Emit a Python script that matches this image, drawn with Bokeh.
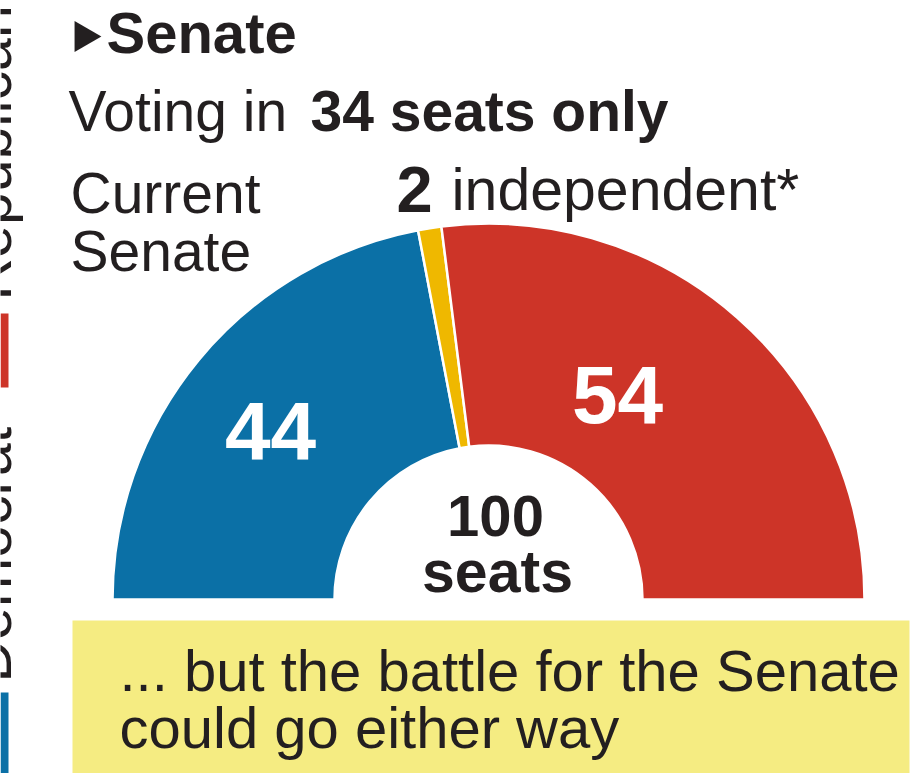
import numpy as np
from bokeh.plotting import figure
from bokeh.models import Range1d, ColumnDataSource, BoxAnnotation
from bokeh.core.properties import value
from bokeh.embed import file_html
from bokeh.resources import INLINE

# ---- data ----
parties = ["Democrat", "Independent", "Republican"]
seats = [44, 2, 54]
party_colors = ["#0b70a6", "#efb800", "#cd3428"]
total_seats = sum(seats)

W, H = 917, 773
FONT = value("Liberation Sans")
DARK = "#231f20"
MID = 0.3465  # distance from em-box middle to alphabetic baseline, in em


def Y(y):
    return H - y


p = figure(width=W, height=H, x_range=Range1d(0, W), y_range=Range1d(0, H),
           min_border=0, toolbar_location=None, output_backend="svg")
p.axis.visible = False
p.grid.visible = False
p.outline_line_color = None
p.background_fill_color = "white"
p.border_fill_color = "white"


def txt(x, base_y, s, size, bold=False, color=DARK, align="left"):
    """Place text so that its alphabetic baseline sits at screen row base_y."""
    p.text(x=[x], y=[Y(base_y - MID * size)], text=[s], text_font=FONT,
           text_font_style="bold" if bold else "normal", text_font_size=f"{size}px",
           text_color=color, text_align=align, text_baseline="middle")


# ---- half donut ----
cum = np.cumsum(seats)
prev = np.concatenate([[0], cum[:-1]])
end_angles = np.pi - prev / total_seats * np.pi
start_angles = np.pi - cum / total_seats * np.pi
cx, cy = 488, Y(599)
src = ColumnDataSource(dict(start=start_angles, end=end_angles, color=party_colors, party=parties))
p.annular_wedge(x=cx, y=cy, inner_radius=154, outer_radius=376,
                start_angle="start", end_angle="end", direction="anticlock",
                fill_color="color", line_color="white", line_width=2.5, source=src)

# seat labels
txt(270, 458, str(seats[0]), 82, bold=True, color="white", align="center")
txt(617, 422, str(seats[2]), 82, bold=True, color="white", align="center")
txt(495, 536, str(total_seats), 58, bold=True, align="center")
txt(497, 592, "seats", 59, bold=True, align="center")

# ---- headings ----
p.scatter(x=[83], y=[Y(36)], marker="triangle", size=31, angle=-np.pi / 2,
          fill_color=DARK, line_color=None)
txt(106, 52, "Senate", 58, bold=True)
txt(68, 130, "Voting in", 57)
txt(310, 130, "34 seats only", 57, bold=True)
txt(70, 212, "Current", 57)
txt(70, 270, "Senate", 57)
txt(396, 212, str(seats[1]), 65, bold=True)
txt(451, 210, "independent*", 59)

# ---- cropped side legend ----
p.quad(left=[0, 0], right=[8, 8], top=[Y(313), Y(692)], bottom=[Y(387), Y(773)],
       fill_color=[party_colors[2], party_colors[0]], line_color=None)
p.text(x=[11 - MID * 59, 11 - MID * 59], y=[Y(682), Y(300)], text=["Democrat", "Republican"],
       angle=np.pi / 2, text_font=FONT, text_font_size="59px", text_color=DARK,
       text_baseline="middle", text_align="left")

# ---- yellow note box ----
p.add_layout(BoxAnnotation(left=72, right=909, bottom=0, top=Y(620),
                           fill_color="#f5ec82", fill_alpha=1, line_color=None, level="underlay"))
txt(119, 690, "... but the battle for the Senate", 58)
txt(119, 747, "could go either way", 58)

open("out.html", "w").write(file_html(p, INLINE))
